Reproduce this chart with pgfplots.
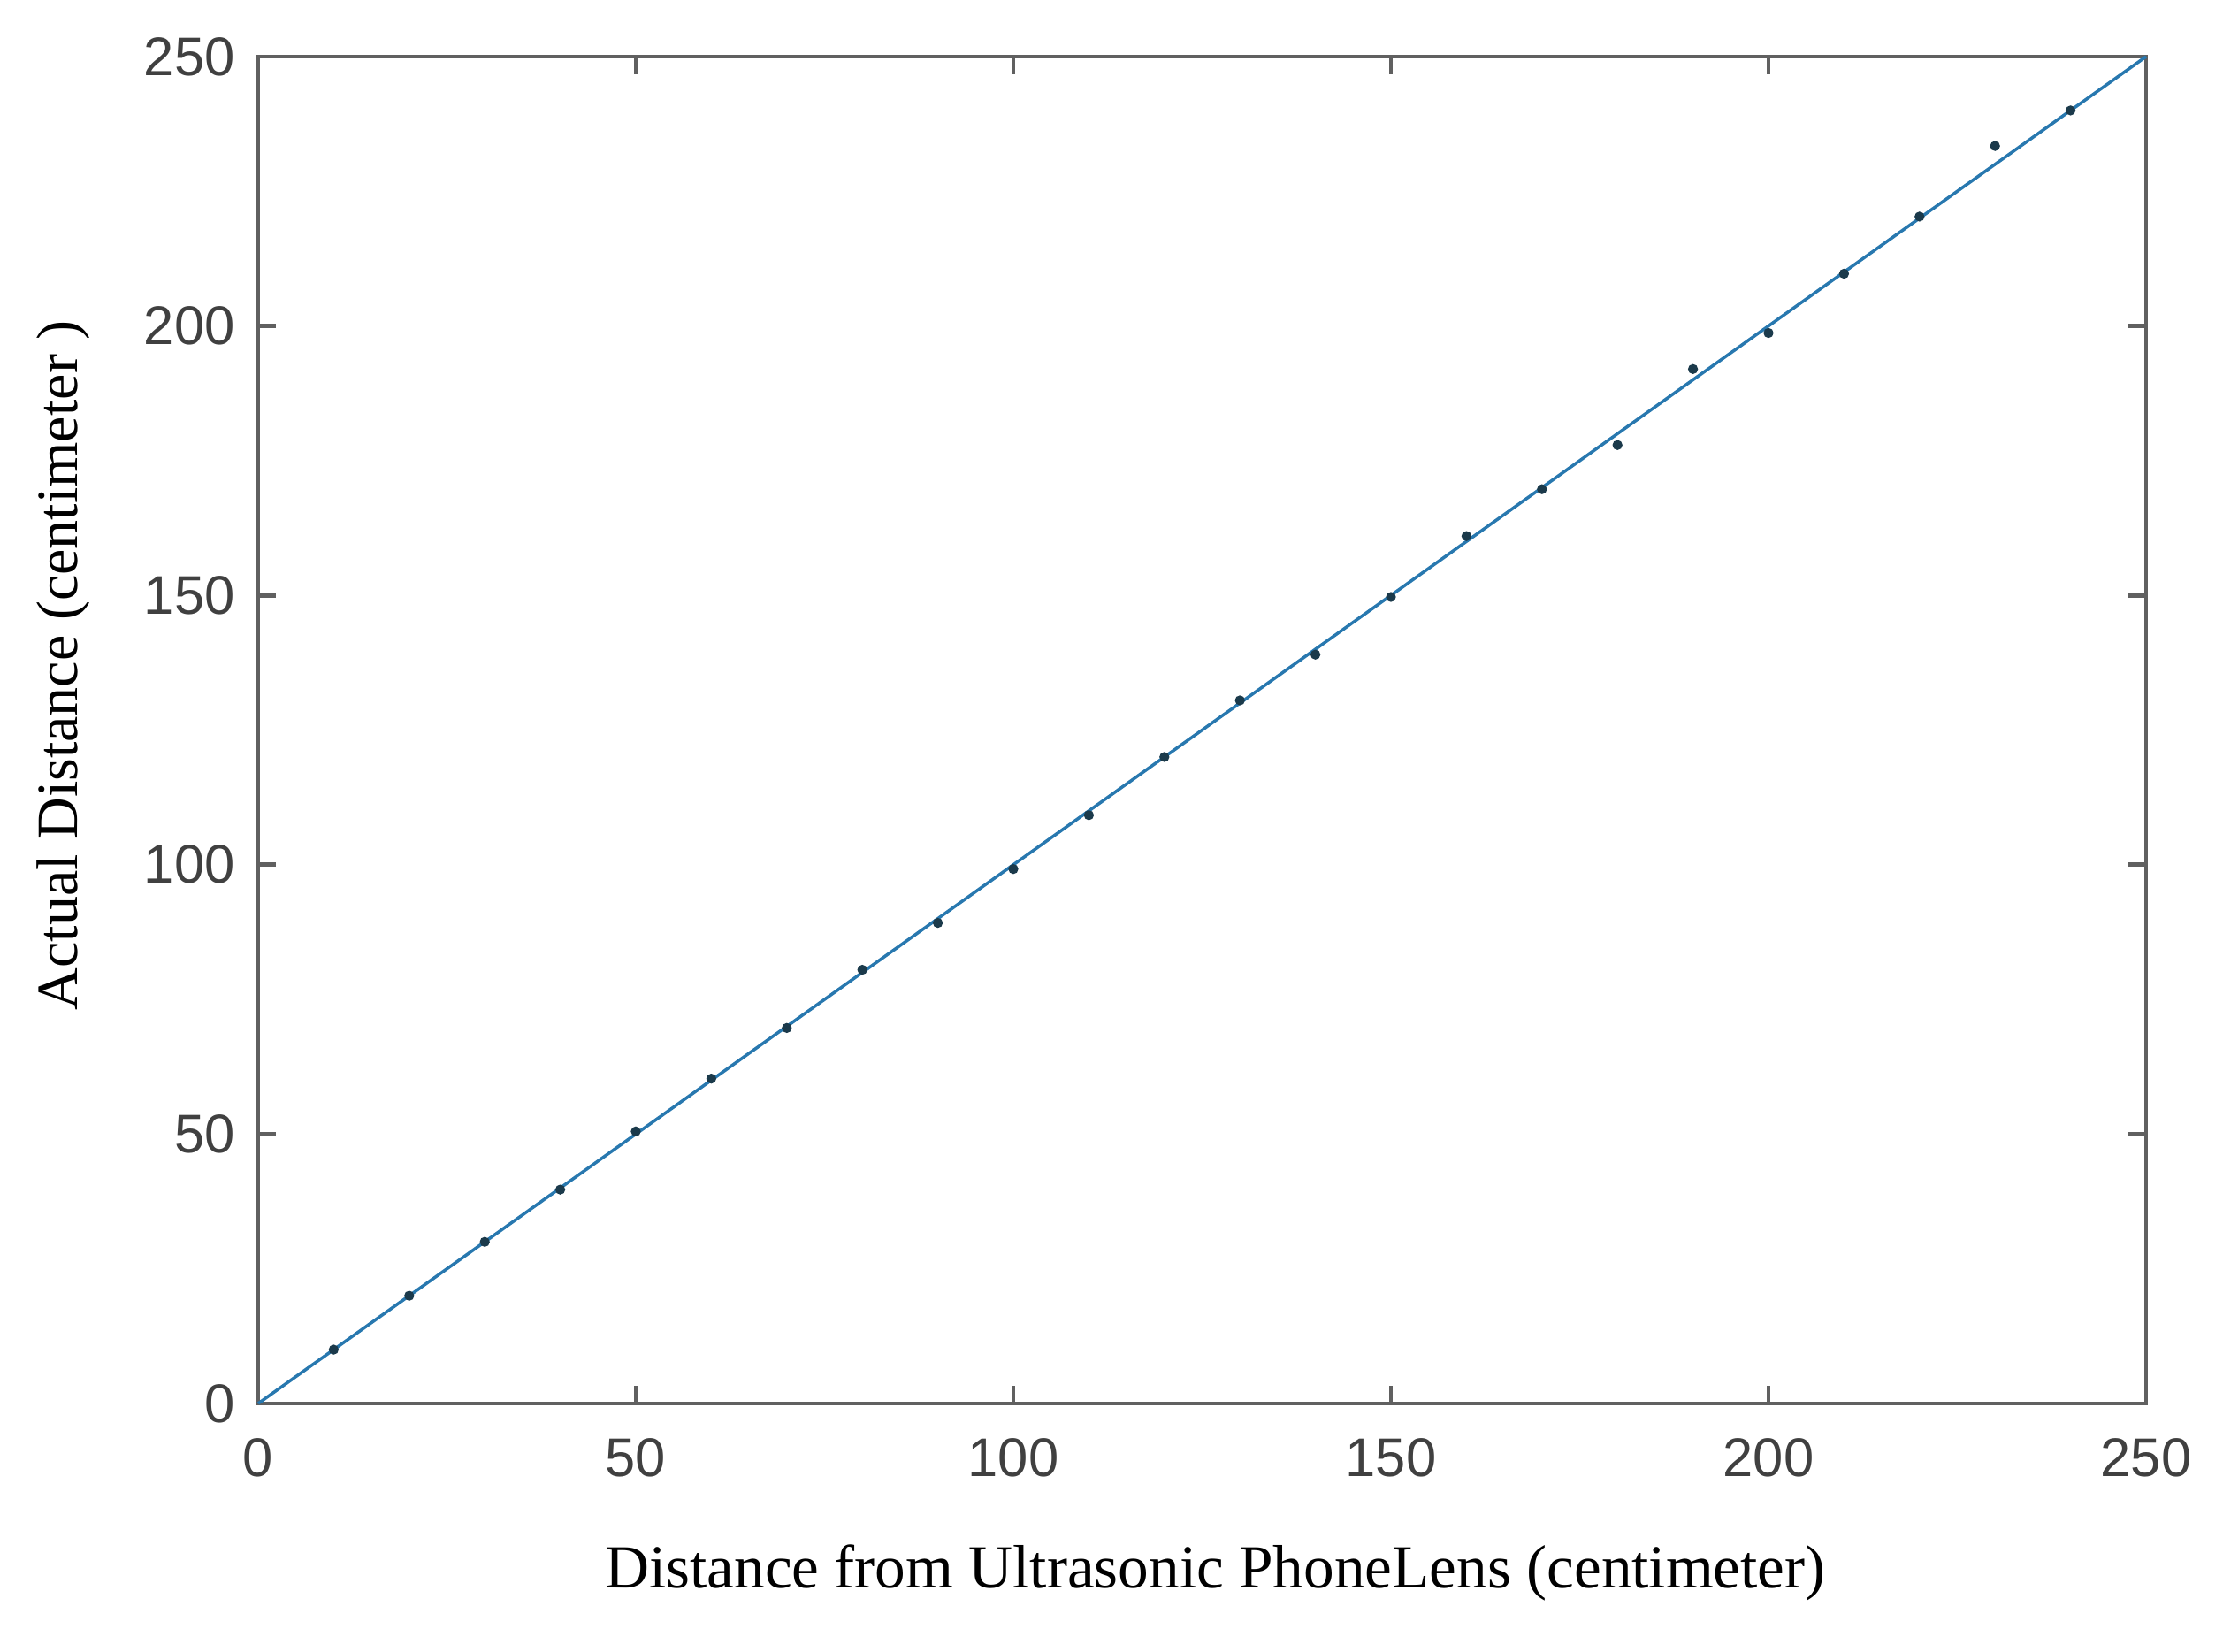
\documentclass[border=0pt]{standalone}
\usepackage{pgfplots}
\pgfplotsset{compat=1.18}
\usepackage{fontspec}
\setmainfont{Liberation Serif}
\newfontfamily\ticksans{Liberation Sans}
\definecolor{axgray}{HTML}{606060}
\definecolor{ticktxt}{HTML}{404040}
\definecolor{fitline}{RGB}{40,120,175}
\definecolor{dotcol}{HTML}{1B3A4B}

\begin{document}
\begin{tikzpicture}
\begin{axis}[
  scale only axis,
  width=21.35cm,height=15.23cm,
  xmin=0,xmax=250,ymin=0,ymax=250,
  xtick={0,50,...,250},ytick={0,50,...,250},
  tick align=inside,
  major tick length=0.2cm,
  axis line style={axgray,line width=1.4pt},
  every tick/.style={axgray,line width=1.4pt},
  /pgf/number format/assume math mode=true,
  tick label style={font=\ticksans\fontsize{17.5}{20}\selectfont,text=ticktxt},
  xticklabel style={yshift=-0.27cm},
  yticklabel style={xshift=-0.14cm},
  xlabel={Distance from Ultrasonic PhoneLens (centimeter)},
  ylabel={Actual Distance (centimeter )},
  xlabel style={font=\fontsize{19.7}{23}\selectfont,at={(axis description cs:0.507,-0.126)},anchor=center},
  ylabel style={font=\fontsize{18.8}{22}\selectfont,at={(axis description cs:-0.103,0.548)},anchor=center},
  clip=false,
]
\addplot[fitline,line width=1pt] coordinates {(0,0) (250,250)};
\addplot[only marks,mark=*,mark size=1.4pt,color=dotcol] coordinates {
(10,10) (20,20) (30,30) (40,39.7) (50,50.5) (60,60.3) (70,69.7) (80,80.5)
(90,89.2) (100,99.2) (110,109.2) (120,120) (130,130.5) (140,139) (150,149.7)
(160,161) (170,169.7) (180,177.9) (190,192) (200,198.7) (210,209.7)
(220,220.3) (230,233.4) (240,240)};
\end{axis}
\path[use as bounding box] ([xshift=-2.92cm,yshift=-2.81cm]current axis.south west) rectangle ([xshift=0.87cm,yshift=0.64cm]current axis.north east);
\end{tikzpicture}
\end{document}
